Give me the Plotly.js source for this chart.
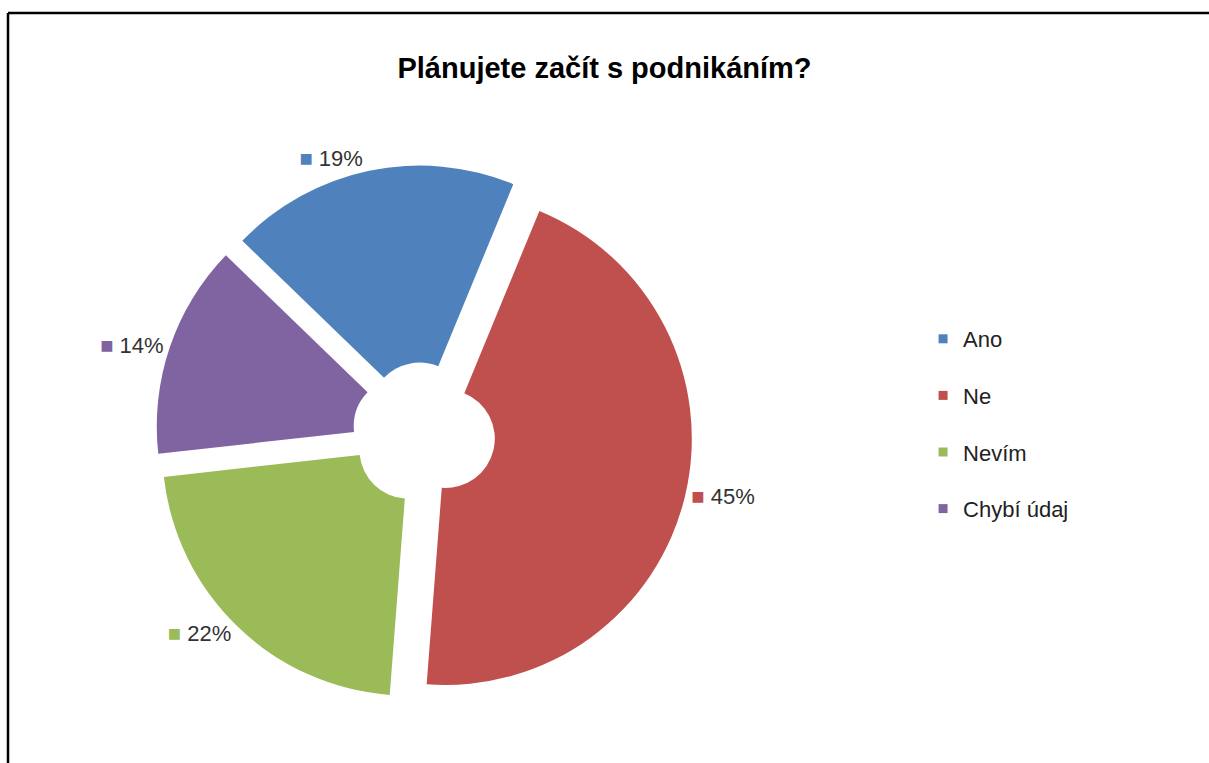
<!DOCTYPE html>
<html>
<head>
<meta charset="utf-8">
<script src="https://cdn.plot.ly/plotly-3.0.1.min.js"></script>
<style>
  html, body { margin: 0; padding: 0; background: #fff; }
  #chart { width: 1209px; height: 763px; }
</style>
</head>
<body>
<div id="chart"></div>
<script>
// ---- data ----
const categories = ['Ano', 'Ne', 'Nevím', 'Chybí údaj'];
const values = [19, 45, 22, 14];
const colors = ['#4F81BD', '#C0504D', '#9BBB59', '#8064A2'];
const chartTitle = 'Plánujete začít s podnikáním?';

const FONT = '"Liberation Sans", Arial, sans-serif';

const sliceText = colors.map(c => '<span style="color:' + c + ';font-size:22px">■</span> ');

const pie = {
  type: 'pie',
  labels: categories,
  values: values,
  sort: false,
  direction: 'clockwise',
  rotation: -46,
  hole: 0.2,
  pull: 0.09,
  marker: { colors: colors, line: { width: 0 } },
  text: sliceText,
  texttemplate: '%{text}%{percent:.0%}',
  textposition: 'outside',
  outsidetextfont: { family: FONT, size: 22, color: '#333333' },
  showlegend: false,
  hoverinfo: 'label+percent',
  domain: { x: [0.1274, 0.574], y: [0.0800, 0.7836] }
};

// legend entries (one per category) so spacing can follow the reference
const legendTraces = categories.map((name, i) => ({
  type: 'scatter',
  mode: 'markers',
  x: [null], y: [null],
  name: name,
  legendgroup: 'g' + i,
  marker: { symbol: 'square', size: 9, color: colors[i] },
  hoverinfo: 'skip',
  showlegend: true
}));

const layout = {
  width: 1209,
  height: 763,
  margin: { l: 0, r: 0, t: 0, b: 0 },
  paper_bgcolor: '#ffffff',
  plot_bgcolor: '#ffffff',
  font: { family: FONT, color: '#000' },
  title: {
    text: '<b>' + chartTitle + '</b>',
    font: { family: FONT, size: 29, color: '#000' },
    x: 0.5, xanchor: 'center',
    y: 1 - 68 / 763, yanchor: 'middle'
  },
  xaxis: { visible: false, domain: [0.9, 0.91] },
  yaxis: { visible: false, domain: [0.9, 0.91] },
  showlegend: true,
  legend: {
    x: 0.7635, xanchor: 'left',
    y: 1 - 318 / 763, yanchor: 'top',
    font: { family: FONT, size: 22, color: '#222' },
    tracegroupgap: 25,
    traceorder: 'grouped',
    bgcolor: 'rgba(0,0,0,0)'
  },
  shapes: [
    { type: 'line', xref: 'paper', yref: 'paper', x0: 8 / 1209, x1: 1.01, y0: 1 - 13 / 763, y1: 1 - 13 / 763, line: { color: '#000', width: 2.5 } },
    { type: 'line', xref: 'paper', yref: 'paper', x0: 8 / 1209, x1: 8 / 1209, y0: 1 - 13 / 763, y1: -0.01, line: { color: '#000', width: 2.5 } }
  ]
};

Plotly.newPlot('chart', [pie].concat(legendTraces), layout, { displayModeBar: false, staticPlot: true });
</script>
</body>
</html>
